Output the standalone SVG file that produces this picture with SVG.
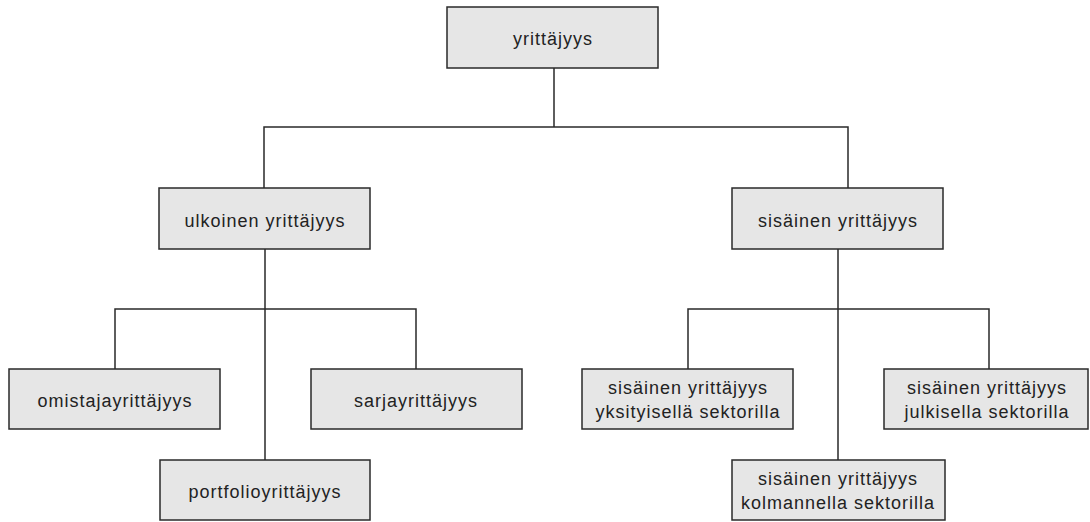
<svg xmlns="http://www.w3.org/2000/svg" width="1090" height="522" viewBox="0 0 1090 522">
<style>
.box{fill:#e6e6e6;stroke:#2a2a2a;stroke-width:1.5}
.lbl{font-family:"Liberation Sans",Arial,sans-serif;font-size:18px;letter-spacing:1px;fill:#222;text-anchor:middle}
.con{fill:none;stroke:#2a2a2a;stroke-width:1.5}
</style>
<rect width="1090" height="522" fill="#fff"/>
<g id="connectors">
<path class="con" d="M554 68V127M264 188V127H848V188"/>
<path class="con" d="M265 249V460M115 369V309H416V369"/>
<path class="con" d="M838 249V460M688 369V309H989V369"/>
</g>
<g id="n-yrittajyys"><rect class="box" x="447" y="7" width="211" height="61"/><text class="lbl" x="553" y="45">yrittäjyys</text></g>
<g id="n-ulkoinen"><rect class="box" x="159" y="188" width="211" height="61"/><text class="lbl" x="265" y="227">ulkoinen yrittäjyys</text></g>
<g id="n-sisainen"><rect class="box" x="732" y="188" width="211" height="61"/><text class="lbl" x="838" y="227">sisäinen yrittäjyys</text></g>
<g id="n-omistaja"><rect class="box" x="9" y="369" width="211" height="60"/><text class="lbl" x="115" y="407">omistajayrittäjyys</text></g>
<g id="n-sarja"><rect class="box" x="311" y="369" width="211" height="60"/><text class="lbl" x="416" y="407">sarjayrittäjyys</text></g>
<g id="n-portfolio"><rect class="box" x="160" y="460" width="210" height="60"/><text class="lbl" x="265" y="498">portfolioyrittäjyys</text></g>
<g id="n-yksityinen"><rect class="box" x="582" y="369" width="211" height="60"/><text class="lbl" x="688" y="394">sisäinen yrittäjyys</text><text class="lbl" x="688" y="418">yksityisellä sektorilla</text></g>
<g id="n-julkinen"><rect class="box" x="884" y="369" width="204" height="60"/><text class="lbl" x="987" y="394">sisäinen yrittäjyys</text><text class="lbl" x="987" y="418">julkisella sektorilla</text></g>
<g id="n-kolmas"><rect class="box" x="732" y="460" width="213" height="60"/><text class="lbl" x="838" y="485">sisäinen yrittäjyys</text><text class="lbl" x="838" y="509">kolmannella sektorilla</text></g>
</svg>
